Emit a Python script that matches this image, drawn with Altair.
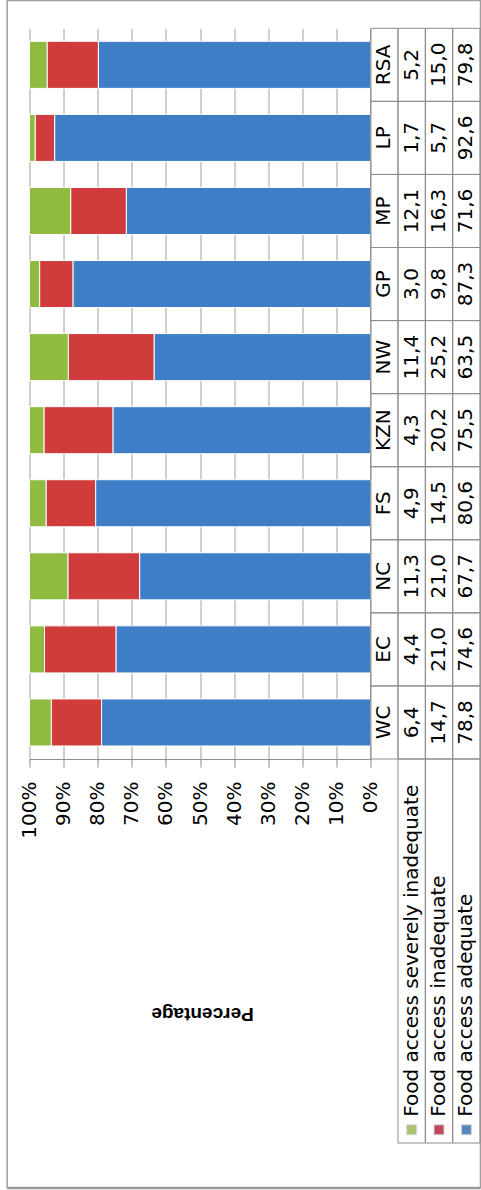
import altair as alt
import pandas as pd

regions = ["WC", "EC", "NC", "FS", "KZN", "NW", "GP", "MP", "LP", "RSA"]
severe = [6.4, 4.4, 11.3, 4.9, 4.3, 11.4, 3.0, 12.1, 1.7, 5.2]
inadequate = [14.7, 21.0, 21.0, 14.5, 20.2, 25.2, 9.8, 16.3, 5.7, 15.0]
adequate = [78.8, 74.6, 67.7, 80.6, 75.5, 63.5, 87.3, 71.6, 92.6, 79.8]
series = ["Food access severely inadequate", "Food access inadequate", "Food access adequate"]
series_cols = ["severe", "inadequate", "adequate"]
colors = ["#8fbc40", "#cf3c3b", "#3e7ec6"]
swatch_colors = ["#a9c46e", "#c0485a", "#5a86bb"]
axis_title = "Percentage"

W, H = 341.2, 730.7
TABLE_W = 109.3
LEG_BOTTOM = 1114.7
top_order = regions[::-1]
FONT = "DejaVu Sans"

def fmt(v):
    return f"{v:.1f}".replace(".", ",")

bar_rows, tbl_rows = [], []
for i, r in enumerate(regions):
    vals = [severe[i], inadequate[i], adequate[i]]
    tbl_rows.append({"region": r, "col": "label", "text": r})
    for k in range(3):
        bar_rows.append({"region": r, "series": series[k], "value": vals[k], "stackorder": 2 - k})
        tbl_rows.append({"region": r, "col": series_cols[k], "text": fmt(vals[k])})
bars_df = pd.DataFrame(bar_rows)
tbl_df = pd.DataFrame(tbl_rows)
leg_df = pd.DataFrame({"series": series, "col": series_cols})

color = alt.Color("series:N", scale=alt.Scale(domain=series, range=colors), legend=None)

bars = alt.Chart(bars_df).mark_bar(stroke="white", strokeWidth=1).encode(
    x=alt.X(
        "value:Q",
        stack="normalize",
        scale=alt.Scale(domain=[0, 1], reverse=True, nice=False),
        axis=alt.Axis(
            format=".0%",
            values=[0, 0.1, 0.2, 0.3, 0.4, 0.5, 0.6, 0.7, 0.8, 0.9, 1.0],
            labelAngle=270,
            labelFont=FONT,
            labelFontSize=20,
            labelColor="black",
            labelPadding=14,
            tickSize=8,
            tickColor="#8c8c8c",
            domainColor="#8c8c8c",
            grid=True,
            gridColor="#a0a0a0",
            title=axis_title,
            titleAngle=180,
            titleX=W / 2 + 2,
            titleY=254.5,
            titleAlign="center",
            titleBaseline="middle",
            titleFont="Liberation Sans",
            titleFontSize=19,
            titleFontWeight="bold",
            titleColor="black",
        ),
    ),
    y=alt.Y("region:N", scale=alt.Scale(domain=top_order, paddingInner=0.356, paddingOuter=0.178), axis=None),
    color=color,
    order=alt.Order("stackorder:Q"),
)

xt = alt.X("col:N", scale=alt.Scale(domain=["label"] + series_cols, range=[W, W + TABLE_W],
                                    paddingInner=0, paddingOuter=0), axis=None)
yt = alt.Y("region:N", scale=alt.Scale(domain=top_order, paddingInner=0, paddingOuter=0), axis=None)

cells = alt.Chart(tbl_df).mark_rect(fill="white", fillOpacity=0, stroke="#8c8c8c", strokeWidth=1).encode(x=xt, y=yt)
texts = alt.Chart(tbl_df).mark_text(angle=270, font=FONT, fontSize=20, color="black",
                                    align="center", baseline="middle").encode(x=xt, y=yt, text="text:N")

leg_cells = alt.Chart(leg_df).mark_rect(fill="white", fillOpacity=0, stroke="#8c8c8c", strokeWidth=1).encode(
    x=xt, y=alt.value(H), y2=alt.value(LEG_BOTTOM))
leg_text = alt.Chart(leg_df).mark_text(angle=270, font=FONT, fontSize=20, color="black",
                                       align="left", baseline="middle").encode(
    x=xt, y=alt.value(1088.5), text="series:N")
swatch = alt.Chart(leg_df).mark_square(size=100, opacity=1, stroke="#d8d8d8", strokeWidth=1).encode(
    x=xt, y=alt.value(1101.5),
    fill=alt.Fill("series:N", scale=alt.Scale(domain=series, range=swatch_colors), legend=None))

one = pd.DataFrame({"a": [0]})
border = alt.Chart(one).mark_rect(fill="white", fillOpacity=0, stroke="#a0a0a0", strokeWidth=1.5).encode(
    x=alt.value(-22.3), x2=alt.value(451), y=alt.value(-27.8), y2=alt.value(1159.5))
shadow = alt.Chart(one).mark_rule(stroke="#9a9a9a", strokeWidth=2.5).encode(
    x=alt.value(-22.3), x2=alt.value(451), y=alt.value(1159.8))

chart = alt.layer(border, shadow, bars, cells, texts, leg_cells, leg_text, swatch).resolve_scale(
    x="independent", y="independent", fill="independent"
).properties(
    width=W, height=H,
    autosize=alt.AutoSizeParams(type="none"),
    padding={"left": 29.5, "top": 28.3, "right": 110.3, "bottom": 431},
    background="white",
).configure_view(strokeWidth=0)

chart.save("out.html", embed_options={"renderer": "svg", "actions": False})
